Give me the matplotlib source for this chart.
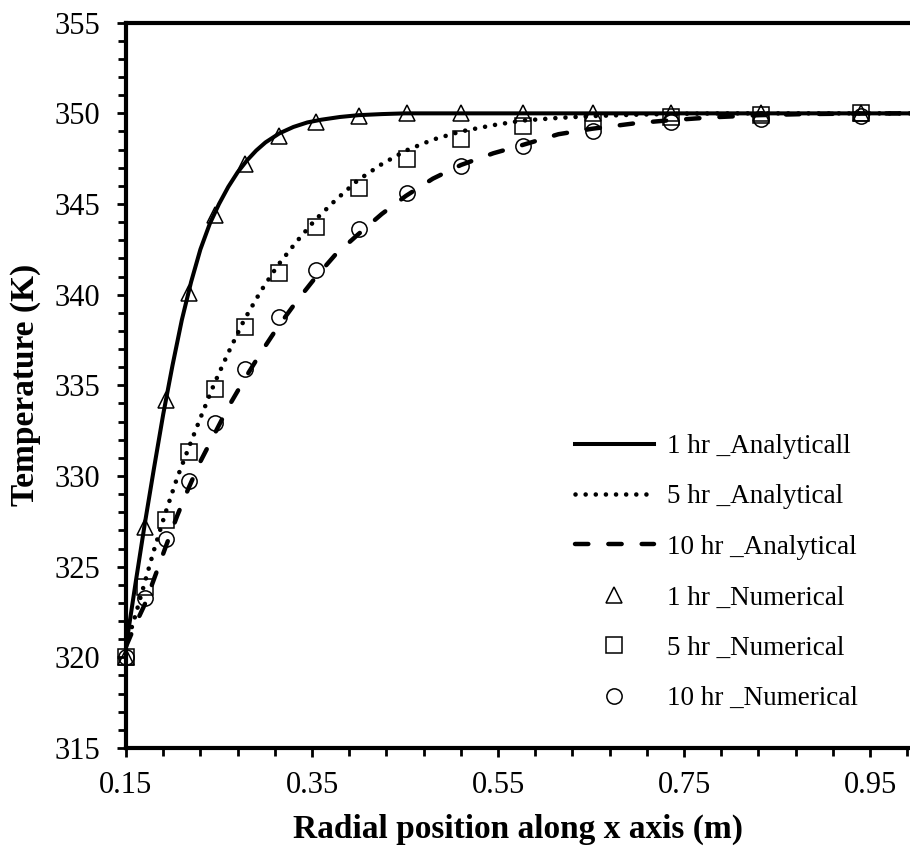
import matplotlib
matplotlib.use("Agg")
import matplotlib.pyplot as plt
from matplotlib.ticker import MultipleLocator, FixedLocator

# ---------------- data ----------------
# numerical solution grid (radial position, m)
x_num = [0.150, 0.170, 0.193, 0.218, 0.246, 0.278, 0.314, 0.354,
         0.400, 0.452, 0.510, 0.577, 0.652, 0.736, 0.833, 0.940]
t1_num = [320.0, 327.2, 334.2, 340.1, 344.4, 347.2, 348.75, 349.5,
          349.85, 350.0, 350.0, 350.0, 350.0, 350.0, 350.0, 350.0]
t5_num = [320.0, 323.9, 327.6, 331.3, 334.8, 338.2, 341.2, 343.75,
          345.9, 347.5, 348.6, 349.3, 349.6, 349.8, 349.9, 350.0]
t10_num = [320.0, 323.25, 326.5, 329.7, 332.9, 335.9, 338.75, 341.35,
           343.6, 345.6, 347.1, 348.2, 349.0, 349.5, 349.7, 349.85]

# analytical curves
x1_an = [0.150, 0.160, 0.170, 0.180, 0.190, 0.200, 0.210, 0.220, 0.230,
         0.240, 0.250, 0.260, 0.270, 0.280, 0.290, 0.300, 0.315, 0.330,
         0.345, 0.360, 0.380, 0.400, 0.425, 0.450, 0.993]
t1_an = [320.6, 324.0, 327.3, 330.4, 333.4, 336.1, 338.6, 340.7, 342.5,
         343.9, 345.0, 345.95, 346.75, 347.4, 347.95, 348.4, 348.9, 349.25,
         349.5, 349.65, 349.8, 349.9, 349.96, 350.0, 350.0]

x5_an = [0.150, 0.160, 0.170, 0.180, 0.192, 0.205, 0.217, 0.230, 0.245,
         0.260, 0.277, 0.295, 0.313, 0.333, 0.353, 0.375, 0.399, 0.425,
         0.451, 0.480, 0.510, 0.545, 0.576, 0.615, 0.651, 0.700, 0.750,
         0.800, 0.993]
t5_an = [320.6, 322.3, 324.1, 325.9, 327.9, 329.9, 331.5, 333.2, 335.1,
         336.8, 338.6, 340.2, 341.6, 342.9, 344.1, 345.2, 346.3, 347.2,
         347.95, 348.55, 349.0, 349.35, 349.6, 349.75, 349.85, 349.93,
         349.98, 350.0, 350.0]

x10_an = [0.150, 0.160, 0.170, 0.180, 0.192, 0.205, 0.217, 0.230, 0.245,
          0.260, 0.277, 0.295, 0.313, 0.333, 0.353, 0.375, 0.399, 0.425,
          0.451, 0.480, 0.510, 0.545, 0.576, 0.615, 0.651, 0.700, 0.735,
          0.780, 0.831, 0.880, 0.939, 0.993]
t10_an = [320.6, 321.8, 322.9, 324.3, 326.0, 327.8, 329.3, 330.8, 332.3,
          333.8, 335.3, 336.8, 338.2, 339.6, 340.9, 342.2, 343.3, 344.45,
          345.45, 346.4, 347.15, 347.8, 348.25, 348.85, 349.15, 349.47,
          349.62, 349.78, 349.9, 349.96, 349.99, 350.0]

labels = ["1 hr _Analyticall", "5 hr _Analytical", "10 hr _Analytical",
          "1 hr _Numerical", "5 hr _Numerical", "10 hr _Numerical"]

x_major = [0.15, 0.35, 0.55, 0.75, 0.95]
x_tick_labels = ["0.15", "0.35", "0.55", "0.75", "0.95"]

# ---------------- figure ----------------
plt.rcParams["font.family"] = ["Liberation Serif", "DejaVu Serif"]

W, H = 910, 846
fig = plt.figure(figsize=(W / 100, H / 100), dpi=100)
x0, x1p, ytop, ybot = 126, 910, 22.7, 748
ax = fig.add_axes([x0 / W, 1 - ybot / H, (x1p - x0) / W, (ybot - ytop) / H])

ax.set_xlim(0.15, 0.993)
ax.set_ylim(315, 355)

# numerical markers (hollow)
mk = dict(linestyle="none", markerfacecolor="none", markeredgecolor="black",
          markersize=11, markeredgewidth=1.1, clip_on=False, zorder=3)
h4, = ax.plot(x_num, t1_num, marker="^", **mk)
h5, = ax.plot(x_num, t5_num, marker="s", **mk)
h6, = ax.plot(x_num, t10_num, marker="o", **mk)

# analytical lines
h1, = ax.plot(x1_an, t1_an, color="black", lw=2.9, zorder=4)
h2, = ax.plot(x5_an, t5_an, color="black", lw=3.3, linestyle=(0, (0.01, 2.2)),
              dash_capstyle="round", zorder=4)
h3, = ax.plot(x10_an, t10_an, color="black", lw=3.2, linestyle=(0, (3.0, 4.5)),
              dash_capstyle="round", zorder=4)

# spines
for s in ["left", "bottom", "top"]:
    ax.spines[s].set_linewidth(3.0)
ax.spines["right"].set_visible(False)

# ticks
ax.xaxis.set_major_locator(FixedLocator(x_major))
ax.set_xticklabels(x_tick_labels)
ax.xaxis.set_minor_locator(FixedLocator([0.15 + 0.04 * i for i in range(22)]))
ax.yaxis.set_major_locator(MultipleLocator(5))
ax.yaxis.set_minor_locator(MultipleLocator(1))
ax.tick_params(axis="both", which="both", direction="out", width=2.0,
               top=False, right=False)
ax.tick_params(axis="both", which="major", length=6.3, labelsize=22)
ax.tick_params(axis="both", which="minor", length=6.0)
ax.tick_params(axis="y", which="major", pad=12)
ax.tick_params(axis="x", which="major", pad=10)

ax.set_xlabel("Radial position along x axis (m)", fontsize=24,
              fontweight="bold", labelpad=10)
ax.set_ylabel("Temperature (K)", fontsize=24, fontweight="bold", labelpad=10)

leg = ax.legend([h1, h2, h3, h4, h5, h6], labels, loc="upper left",
                bbox_to_anchor=(575 / W, 1 - 434 / H),
                bbox_transform=fig.transFigure, frameon=False,
                handlelength=2.9, handletextpad=0.5, labelspacing=0.94,
                borderpad=0, borderaxespad=0, numpoints=1,
                prop={"family": ["Liberation Serif"], "size": 19.5})

fig.savefig("out.png", dpi=100)
